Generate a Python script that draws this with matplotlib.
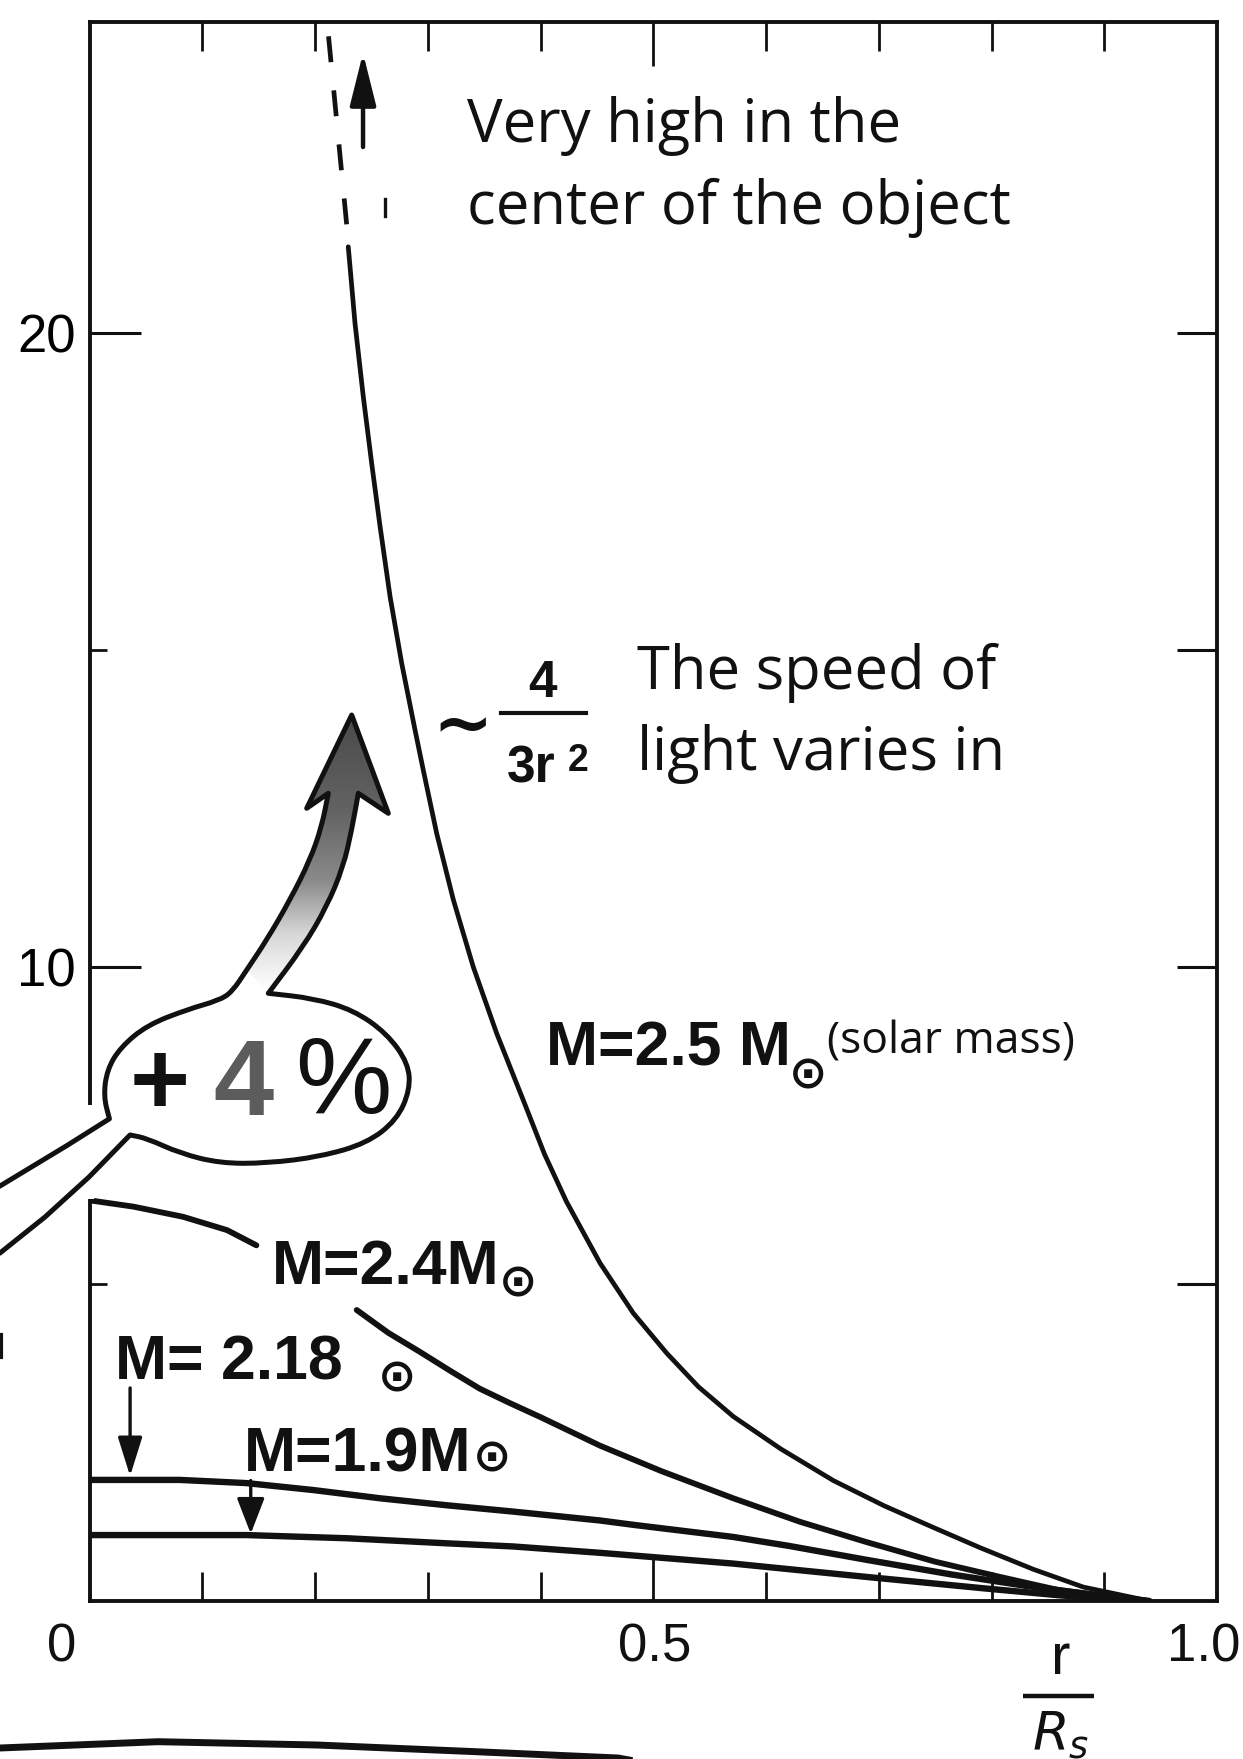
import numpy as np
import matplotlib
matplotlib.use("Agg")
import matplotlib.pyplot as plt
from matplotlib.patches import PathPatch
from matplotlib.path import Path
from matplotlib.colors import LinearSegmentedColormap

# --- curves: r / R_s  vs  relative speed of light ---
r_25 = [0.2295, 0.2355, 0.2428, 0.2503, 0.2577, 0.2666, 0.2769, 0.2887, 0.2961,
        0.3079, 0.3227, 0.3404, 0.3612, 0.3847, 0.4035, 0.4230, 0.4528, 0.4823,
        0.5119, 0.5400, 0.5710, 0.6130, 0.6597, 0.7050, 0.7484, 0.7900, 0.8371,
        0.8814, 0.9400]
v_25 = [21.36, 20.15, 19.00, 17.94, 16.95, 15.84, 14.79, 13.74, 13.10,
        12.11, 11.06, 10.00, 8.95, 7.90, 7.05, 6.30, 5.33, 4.54,
        3.91, 3.38, 2.91, 2.40, 1.90, 1.50, 1.16, 0.84, 0.50,
        0.22, 0.0]
r_25_top = [0.212, 0.2295]          # dashed continuation above the solid line
v_25_top = [24.68, 21.45]

r_24a = [0.0, 0.039, 0.083, 0.122, 0.148]
v_24a = [6.32, 6.22, 6.06, 5.85, 5.61]
r_24b = [0.237, 0.265, 0.293, 0.320, 0.346, 0.373, 0.400, 0.4528, 0.507, 0.571,
         0.630, 0.689, 0.750, 0.8075, 0.860, 0.940]
v_24b = [4.59, 4.23, 3.93, 3.63, 3.35, 3.12, 2.90, 2.45, 2.05, 1.62,
         1.25, 0.93, 0.62, 0.38, 0.17, 0.0]

r_218 = [0.0, 0.080, 0.139, 0.1985, 0.2577, 0.3168, 0.3759, 0.4528, 0.483, 0.571,
         0.620, 0.689, 0.764, 0.830, 0.890, 0.940]
v_218 = [1.91, 1.91, 1.86, 1.75, 1.62, 1.51, 1.41, 1.27, 1.20, 1.01,
         0.87, 0.65, 0.42, 0.24, 0.10, 0.0]

r_19 = [0.0, 0.139, 0.228, 0.3168, 0.3759, 0.4528, 0.571, 0.689, 0.793, 0.860, 0.930]
v_19 = [1.04, 1.04, 0.99, 0.91, 0.86, 0.76, 0.59, 0.38, 0.20, 0.09, 0.0]

y_major = [10, 20]
y_minor = [5, 15]
x_major = [0.5]
x_minor = [0.1, 0.2, 0.3, 0.4, 0.6, 0.7, 0.8, 0.9]
x_labels = ['0', '0.5', '1.0']

W, H, DPI = 1243, 1759, 100
SANS = ['Liberation Sans', 'DejaVu Sans']
HAND = ['Open Sans', 'DejaVu Sans']
SYM = ['DejaVu Sans']
INK = '#111111'

# axes geometry in reference pixels
AX_L, AX_R = 89.5, 1217.0
Y0_PX, TOP_PX, PX_UNIT = 1601.0, 22.0, 63.4
YTOP = (Y0_PX - TOP_PX) / PX_UNIT


def px(pts):
    """reference pixel coords -> data coords (for the hand-drawn artwork)"""
    a = np.asarray(pts, dtype=float)
    return np.column_stack([(a[:, 0] - AX_L) / (AX_R - AX_L),
                            (Y0_PX - a[:, 1]) / PX_UNIT])


def smooth_path(pts, sharp, closed=False):
    """rounded outline: quadratic curves through the midpoints, sharp corners kept"""
    p = px(pts)
    n = len(p)
    verts, codes = [p[0]], [Path.MOVETO]
    for i in range(1, n - 1):
        if sharp[i]:
            verts.append(p[i]); codes.append(Path.LINETO)
        else:
            verts += [(p[i - 1] + p[i]) / 2, p[i], (p[i] + p[i + 1]) / 2]
            codes += [Path.LINETO, Path.CURVE3, Path.CURVE3]
    verts.append(p[-1]); codes.append(Path.LINETO)
    if closed:
        verts.append(p[0]); codes.append(Path.CLOSEPOLY)
    return Path(np.array(verts), codes)


fig = plt.figure(figsize=(W / DPI, H / DPI), dpi=DPI)
fig.patch.set_facecolor('white')
ax = fig.add_axes([AX_L / W, 1 - Y0_PX / H, (AX_R - AX_L) / W, (Y0_PX - TOP_PX) / H])
ax.set_xlim(0, 1)
ax.set_ylim(0, YTOP)

for s in ax.spines.values():
    s.set_linewidth(2.8)
    s.set_color(INK)

# ticks
ax.set_xticks(x_major)
ax.set_xticks(x_minor, minor=True)
ax.set_yticks(y_major)
ax.set_yticks(y_minor, minor=True)
ax.set_yticklabels([str(v) for v in y_major])
ax.tick_params(axis='x', which='both', direction='in', top=True, bottom=True,
               labelbottom=False, width=2.0, color=INK)
ax.tick_params(axis='x', which='major', length=32)
ax.tick_params(axis='x', which='minor', length=21)
ax.tick_params(axis='y', which='major', direction='in', length=37, width=2.2,
               labelsize=38, pad=10, right=False, color=INK)
ax.tick_params(axis='y', which='minor', direction='in', length=12, width=2.0,
               right=False, color=INK)
for lab in ax.get_yticklabels():
    lab.set_family(SANS)

ax_r = ax.twinx()
ax_r.set_ylim(0, YTOP)
ax_r.set_yticks(y_minor + y_major)
ax_r.tick_params(axis='y', direction='in', length=29, width=2.2, labelright=False, color=INK)
for s in ax_r.spines.values():
    s.set_visible(False)

# x tick labels and the r / R_s axis label drawn as text
for xv, lab in zip([-0.025, 0.501, 0.988], x_labels):
    ax.text(xv, -0.73, lab, ha='center', va='center', fontsize=38,
            family=SANS, color=INK, clip_on=False)
ax.text(0.861, -0.92, 'r', ha='center', va='center', fontsize=42,
        family=SANS, color=INK, clip_on=False)
ax.plot([0.828, 0.891], [-1.50, -1.50], color=INK, lw=3.2, clip_on=False,
        solid_capstyle='butt')
ax.text(0.861, -2.12, r'$R_s$', ha='center', va='center', fontsize=38,
        color=INK, clip_on=False)

# curves
ax.plot(r_25, v_25, color=INK, lw=3.4, solid_capstyle='round', zorder=4)
ax.plot(r_25_top, v_25_top, color=INK, lw=3.4, dashes=(5.5, 6), zorder=4)
ax.plot(r_24a, v_24a, color=INK, lw=4.2, solid_capstyle='round', zorder=4)
ax.plot(r_24b, v_24b, color=INK, lw=4.2, solid_capstyle='round', zorder=4)
ax.plot(r_218, v_218, color=INK, lw=4.6, solid_capstyle='round', zorder=4)
ax.plot(r_19, v_19, color=INK, lw=4.6, solid_capstyle='round', zorder=4)

# arrow "very high in the center"
ax.annotate('', xy=(0.2426, 24.46), xytext=(0.2426, 22.89),
            arrowprops=dict(arrowstyle='-|>,head_length=3.2,head_width=0.8',
                            color=INK, lw=3.2))
ax.plot([0.262, 0.262], [21.85, 22.12], color=INK, lw=2.4)

# small arrows pointing at the two lowest curves
ax.annotate('', xy=(0.036, 1.97), xytext=(0.036, 3.36),
            arrowprops=dict(arrowstyle='-|>,head_length=2.4,head_width=0.75',
                            color=INK, lw=2.4, shrinkA=0, shrinkB=0))
ax.annotate('', xy=(0.143, 1.06), xytext=(0.143, 1.90),
            arrowprops=dict(arrowstyle='-|>,head_length=2.2,head_width=0.85',
                            color=INK, lw=2.4, shrinkA=0, shrinkB=0))

# curve labels
LBL = dict(ha='left', va='center', fontsize=45, family=SANS, weight='bold', color=INK)
SUN = dict(ha='center', va='center', fontsize=33, family=SYM, weight='bold', color=INK)
ax.text(0.405, 8.71, 'M=2.5 M', **LBL)
ax.text(0.637, 8.28, '\u2299', **SUN)
ax.text(0.654, 8.82, '(solar mass)', ha='left', va='center', fontsize=32,
        family=HAND, color=INK)
ax.text(0.162, 5.26, 'M=2.4M', **LBL)
ax.text(0.380, 5.00, '\u2299', **SUN)
ax.text(0.023, 3.75, 'M= 2.18', **LBL)
ax.text(0.273, 3.50, '\u2299', **SUN)
ax.text(0.137, 2.30, 'M=1.9M', **LBL)
ax.text(0.357, 2.24, '\u2299', **SUN)

# ~ 4/(3r^2)
ax.text(0.331, 13.78, '~', ha='center', va='center', fontsize=52,
        family=SYM, weight='bold', color=INK)
ax.text(0.402, 14.47, '4', ha='center', va='center', fontsize=37,
        family=SANS, weight='bold', color=INK)
ax.plot([0.365, 0.440], [14.0, 14.0], color=INK, lw=3.0)
ax.text(0.392, 13.12, '3r', ha='center', va='center', fontsize=37,
        family=SANS, weight='bold', color=INK)
ax.text(0.433, 13.25, '2', ha='center', va='center', fontsize=27,
        family=SANS, weight='bold', color=INK)

# annotations in handwritten style
HW = dict(ha='left', va='center', fontsize=43, family=HAND, color=INK)
ax.text(0.335, 23.27, 'Very high in the', **HW)
ax.text(0.335, 21.98, 'center of the object', **HW)
ax.text(0.486, 14.64, 'The speed of', **HW)
ax.text(0.486, 13.36, 'light varies in', **HW)

# "+4%" speech bubble with the up-going gradient arrow (outline in ref pixels)
tail_up = [(-30, 1205), (0, 1186), (67, 1145.5), (109.4, 1118.8)]
bubble_l = [(103.6, 1096.4), (107.1, 1069.6), (120.5, 1047.3), (147.3, 1025),
            (187.5, 1009.4), (218.8, 1000.4), (232, 992)]
arrow = [(246.7, 970), (266.7, 940), (290, 900), (310, 860), (321.7, 826.7),
         (328.3, 793.3), (306.7, 808.3), (351.7, 715), (388.3, 813.3),
         (358.3, 793.3), (351.7, 830), (343.3, 866.7), (326.7, 906.7),
         (303.3, 946.7), (268.3, 993.3)]
arrow_sharp = [False, False, False, False, False,
               True, True, True, True,
               True, False, False, False, False, True]
bubble_r = [(313.3, 998.3), (353.3, 1010), (386.7, 1033.3), (408.3, 1063.3),
            (410, 1090), (396.7, 1120), (366.7, 1143.3), (320, 1156.7),
            (266.7, 1163.3), (220, 1163.3), (180, 1153.3), (146.7, 1138.3),
            (130, 1135)]
tail_lo = [(89, 1177), (45, 1217), (0, 1253), (-30, 1277)]

pts = tail_up + bubble_l + arrow + bubble_r + tail_lo
sharp = ([True, True, True, True] + [False] * len(bubble_l) + arrow_sharp
         + [False] * (len(bubble_r) - 1) + [True] + [True] * len(tail_lo))
outline = smooth_path(pts, sharp, closed=True)

# white gap in the left spine where the bubble tail crosses it
gap = px([(AX_L, 1105), (AX_L, 1199)])
ax.plot(gap[:, 0], gap[:, 1], color='white', lw=6, clip_on=False, zorder=4.5,
        solid_capstyle='butt')

ax.add_patch(PathPatch(outline, facecolor='white', edgecolor='none',
                       zorder=5, clip_on=False))
clip = PathPatch(smooth_path(arrow, arrow_sharp, closed=True), transform=ax.transData)
gcmap = LinearSegmentedColormap.from_list(
    'g', [(0, '#4a4a4a'), (0.35, '#636363'), (0.6, '#8a8a8a'),
          (0.8, '#d8d8d8'), (1, '#ffffff')])
ext = px([(240, 715), (395, 990)])
im = ax.imshow(np.linspace(0, 1, 256).reshape(-1, 1), cmap=gcmap, aspect='auto',
               extent=(ext[0, 0], ext[1, 0], ext[1, 1], ext[0, 1]),
               origin='upper', zorder=6, interpolation='bilinear')
im.set_clip_path(clip)
ax.add_patch(PathPatch(outline, facecolor='none', edgecolor=INK, lw=3.6,
                       joinstyle='round', zorder=7, clip_on=False))
ax.set_xlim(0, 1)
ax.set_ylim(0, YTOP)

ax.text(0.0625, 8.10, '+', ha='center', va='center', fontsize=74,
        family=SANS, weight='bold', color=INK, zorder=8)
ax.text(0.137, 8.10, '4', ha='center', va='center', fontsize=78,
        family=SANS, weight='bold', color='#5c5c5c', zorder=8)
ax.text(0.2247, 8.14, '%', ha='center', va='center', fontsize=78,
        family=SANS, color=INK, zorder=8)

# stray strokes from the cut-out picture
stray = px([(-20, 1750), (0, 1748), (158, 1741.7), (317, 1745), (476, 1751.7),
            (618, 1758), (640, 1762)])
ax.plot(stray[:, 0], stray[:, 1], color=INK, lw=5, clip_on=False)
mark = px([(1, 1335), (1, 1357)])
ax.plot(mark[:, 0], mark[:, 1], color=INK, lw=3, clip_on=False)

fig.savefig('out.png', dpi=DPI, facecolor='white')
